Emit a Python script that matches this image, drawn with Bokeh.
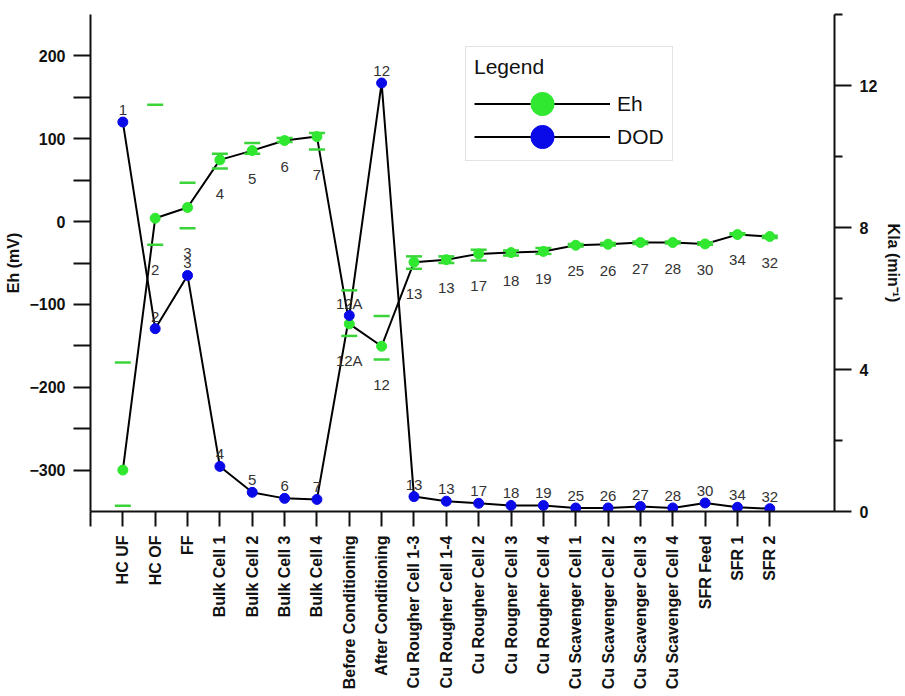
import math
from bokeh.plotting import figure
from bokeh.models import (Range1d, LinearAxis, FixedTicker, ColumnDataSource,
                          Legend, LegendItem, LabelSet)
from bokeh.embed import file_html
from bokeh.resources import INLINE
from bokeh.core.properties import value

# ---------------- data ----------------
categories = ["HC UF", "HC OF", "FF", "Bulk Cell 1", "Bulk Cell 2", "Bulk Cell 3",
              "Bulk Cell 4", "Before Conditioning", "After Conditioning",
              "Cu Rougher Cell 1-3", "Cu Rougher Cell 1-4", "Cu Rougher Cell 2",
              "Cu Rougner Cell 3", "Cu Rougher Cell 4", "Cu Scavenger Cell 1",
              "Cu Scavenger Cell 2", "Cu Scavenger Cell 3", "Cu Scavenger Cell 4",
              "SFR Feed", "SFR 1", "SFR 2"]
point_labels = ["1", "2", "3", "4", "5", "6", "7", "12A", "12", "13", "13", "17",
                "18", "19", "25", "26", "27", "28", "30", "34", "32"]
eh = [-300, 4, 17, 74.5, 85.7, 97.8, 102.6, -123.5, -150.5, -49, -46, -39,
      -37.4, -36, -28.6, -27.4, -25.3, -25.3, -27, -15.7, -18]
eh_upper = [-170, 141, 47, 82, 95, 101, 107, -83, -114, -42, -42, -34,
            -35, -32, -27, -26, -24, -24, -25, -14, -17]
eh_lower = [-343, -28, -8, 64, 82, 96, 87, -138, -166.5, -57, -50, -47,
            -41, -39, -30, -29, -27, -26.5, -28, -16, -19.7]
kla = [10.97, 5.15, 6.65, 1.27, 0.54, 0.37, 0.34, 5.52, 12.07, 0.42, 0.29, 0.23,
       0.17, 0.17, 0.10, 0.10, 0.14, 0.10, 0.24, 0.12, 0.08]
eh_ticks = [-300, -200, -100, 0, 100, 200]
eh_minor = [-250, -150, -50, 50, 150]
kla_ticks = [0, 4, 8, 12]
kla_minor = [2, 6, 10, 14]

GREEN = "#2fe82f"
CAP_GREEN = "#3ad43a"
BLUE = "#0a0ae8"
FONT = "Liberation Sans"

xs = list(range(len(categories)))
src = ColumnDataSource(dict(x=xs, eh=eh, up=eh_upper, lo=eh_lower, kla=kla,
                            lab=point_labels))

p = figure(width=905, height=696, output_backend="svg", toolbar_location=None,
           x_range=Range1d(-1, 22), y_range=Range1d(-350, 250),
           min_border_left=90, min_border_right=68, min_border_top=14,
           min_border_bottom=185)
p.extra_y_ranges = {"kla": Range1d(0, 14)}
p.outline_line_color = None
p.grid.visible = False
p.background_fill_color = "white"
p.border_fill_color = "white"

# ---------------- axes ----------------
def style_axis(ax, tick_out, minor_out):
    ax.axis_line_width = 2
    ax.axis_line_color = "#111111"
    ax.major_tick_line_width = 2
    ax.major_tick_line_color = "#111111"
    ax.minor_tick_line_width = 2
    ax.minor_tick_line_color = "#111111"
    ax.major_tick_out = tick_out
    ax.major_tick_in = 0
    ax.minor_tick_out = minor_out
    ax.minor_tick_in = 0
    ax.major_label_text_font = FONT
    ax.major_label_text_font_style = "bold"
    ax.major_label_text_font_size = "16px"
    ax.major_label_text_color = "#111111"
    ax.axis_label_text_font = FONT
    ax.axis_label_text_font_style = "bold"
    ax.axis_label_text_font_size = "16px"
    ax.axis_label_text_color = "#111111"

xax = p.xaxis[0]
style_axis(xax, 15, 15)
xax.ticker = FixedTicker(ticks=xs, minor_ticks=[-1])
xax.major_label_overrides = {i: c for i, c in enumerate(categories)}
xax.major_label_orientation = math.pi / 2
xax.major_label_standoff = 9

yax = p.yaxis[0]
style_axis(yax, 17, 17)
yax.ticker = FixedTicker(ticks=eh_ticks, minor_ticks=eh_minor)
yax.axis_label = "Eh (mV)"
yax.major_label_standoff = 8
yax.axis_label_standoff = 4

rax = LinearAxis(y_range_name="kla", axis_label="Kla (min\u207b\u00b9)")
style_axis(rax, 17, 8)
rax.ticker = FixedTicker(ticks=kla_ticks, minor_ticks=kla_minor)
rax.major_label_standoff = 8
rax.axis_label_standoff = 5
p.add_layout(rax, "right")

# ---------------- glyphs ----------------
eh_line = p.line("x", "eh", source=src, line_color="black", line_width=2)
dod_line = p.line("x", "kla", source=src, y_range_name="kla",
                  line_color="black", line_width=2)

p.scatter("x", "up", source=src, marker="dash", size=16,
          line_color=CAP_GREEN, line_width=2.5)
p.scatter("x", "lo", source=src, marker="dash", size=16,
          line_color=CAP_GREEN, line_width=2.5)

eh_pts = p.ellipse("x", "eh", source=src, width=10, height=10,
                   width_units="screen", height_units="screen",
                   fill_color=GREEN, line_color=GREEN)
dod_pts = p.ellipse("x", "kla", source=src, y_range_name="kla",
                    width=10, height=10, width_units="screen",
                    height_units="screen", fill_color=BLUE, line_color=BLUE)

eh_labels = LabelSet(x="x", y="lo", text="lab", source=src, y_offset=-25,
                     text_align="center", text_baseline="middle",
                     text_font=value(FONT), text_font_size="15px",
                     text_color="#333333", level="overlay")
p.add_layout(eh_labels)
p.text("x", "kla", text="lab", source=src, y_range_name="kla", y_offset=-12,
       text_align="center", text_baseline="middle", text_font=value(FONT),
       text_font_size="15px", text_color="#333333")

# ---------------- legend ----------------
legend = Legend(items=[LegendItem(label="Eh", renderers=[eh_line, eh_pts]),
                       LegendItem(label="DOD", renderers=[dod_line, dod_pts])],
                title="Legend", location=(375, 350))
legend.title_text_font = FONT
legend.title_text_font_size = "21px"
legend.title_text_font_style = "normal"
legend.title_text_color = "#111111"
legend.title_standoff = 9
legend.label_text_font = FONT
legend.label_text_font_size = "21px"
legend.label_text_color = "#111111"
legend.glyph_width = 136
legend.glyph_height = 29
legend.label_height = 31
legend.label_standoff = 7
legend.spacing = 2
legend.padding = 8
legend.margin = 0
legend.border_line_color = "#c8c8c8"
legend.border_line_width = 1.5
legend.background_fill_color = "white"
p.add_layout(legend)

open("out.html", "w").write(file_html(p, INLINE))
